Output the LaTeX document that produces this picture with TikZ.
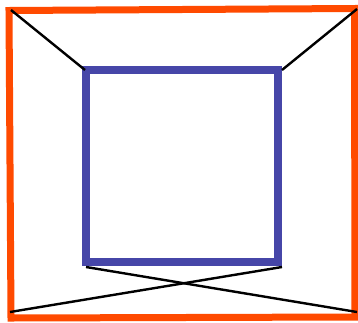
\documentclass[tikz,border=0pt]{standalone}
\usepackage{xcolor}
\usetikzlibrary{calc}
\definecolor{frameorange}{HTML}{FF4A00}
\definecolor{boxblue}{HTML}{4646A8}

\begin{document}
\begin{tikzpicture}[x=1pt,y=-1pt,
  outer/.style={draw=frameorange,line width=7pt,line join=miter},
  inner/.style={draw=boxblue,line width=8pt,line join=miter},
  edge/.style={draw=black,line width=2.4pt}
]
\useasboundingbox (0,0) rectangle (358,322);
% outer frame corners
\coordinate (otl) at (9,10.5);
\coordinate (otr) at (354.5,8.5);
\coordinate (obr) at (355,317);
\coordinate (obl) at (11,318);
% inner square corners
\coordinate (itl) at (86,70);
\coordinate (itr) at (278,70);
\coordinate (ibr) at (278,262);
\coordinate (ibl) at (86,262);
% line ends
\coordinate (a1) at (11,10);
\coordinate (b1) at (85,70);
\coordinate (a2) at (357,9);
\coordinate (b2) at (282,70);
\coordinate (a3) at (357,312);
\coordinate (b3) at (86,267);
\coordinate (a4) at (10,312);
\coordinate (b4) at (282,267);
\draw[outer] (otl) -- (otr) -- (obr) -- (obl) -- cycle;
\draw[inner] (itl) -- (itr) -- (ibr) -- (ibl) -- cycle;
% connecting lines
\draw[edge] (a1) -- (b1);
\draw[edge] (a2) -- (b2);
\draw[edge] (b3) -- (a3);
\draw[edge] (b4) -- (a4);
\end{tikzpicture}
\end{document}
